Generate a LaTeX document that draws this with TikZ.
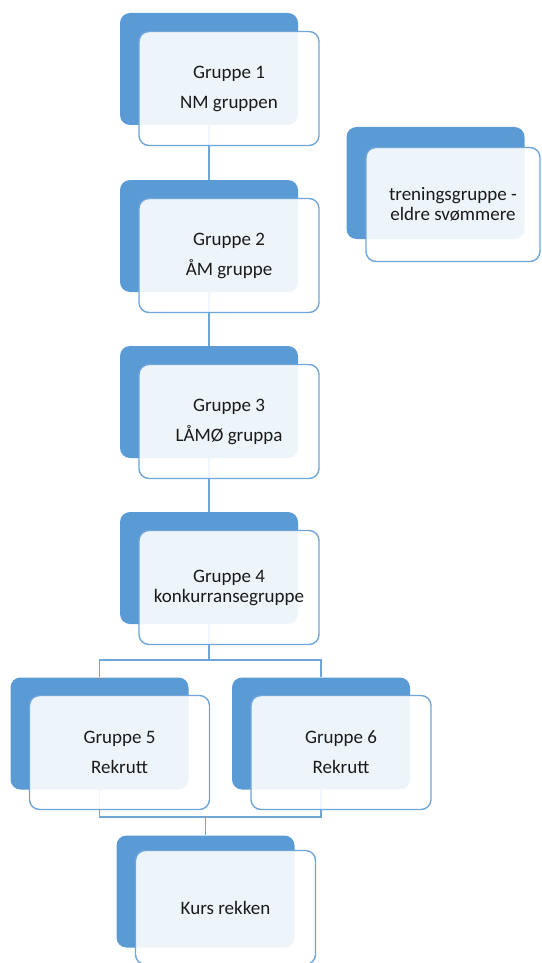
\documentclass[tikz,border=0pt]{standalone}
\usepackage{fontspec}
\setmainfont{Carlito}
\definecolor{sablue}{HTML}{5B9BD5}
\definecolor{saline}{HTML}{6FA6DA}
\definecolor{satext}{HTML}{1A1A1A}
\tikzset{
  backbox/.style={rectangle, rounded corners=10pt, fill=sablue, draw=none,
    minimum width=178pt, minimum height=112pt, inner sep=0pt},
  frontbox/.style={rectangle, rounded corners=10pt, fill=white, fill opacity=0.9,
    text opacity=1, draw=saline, line width=1.4pt,
    minimum width=180pt, minimum height=114pt, inner sep=0pt,
    align=center, text=satext, font={\fontsize{19}{20}\selectfont}},
  conn/.style={draw=saline, line width=1.4pt}
}
\begin{document}
\begin{tikzpicture}[x=1pt,y=-1pt]
\useasboundingbox (0,0) rectangle (541,963);
% back rectangles
\node[backbox] (b1) at (209,69) {};
\node[backbox] (b2) at (209,236) {};
\node[backbox] (b3) at (209,402) {};
\node[backbox] (b4) at (209,568) {};
\node[backbox] (br) at (435.5,183) {};
\node[backbox] (b5) at (99.5,733.5) {};
\node[backbox] (b6) at (321,733.5) {};
\node[backbox] (b7) at (205.5,891.5) {};
% connectors
\coordinate (j1) at (209,660);
\coordinate (j2) at (205.5,817);
\draw[conn] (b1.south) -- (b2.north);
\draw[conn] (b2.south) -- (b3.north);
\draw[conn] (b3.south) -- (b4.north);
\draw[conn] (b4.south) -- (j1) -| (b5.north);
\draw[conn] (j1) -| (b6.north);
\draw[conn] (b5.south) |- (j2) -- (b7.north);
\draw[conn] (b6.south) |- (j2);
% front boxes
\node[frontbox] (f1) at (229,88.5) {Gruppe 1\\[10pt]NM gruppen};
\node[frontbox] (f2) at (229,255.5) {Gruppe 2\\[10pt]ÅM gruppe};
\node[frontbox] (f3) at (229,421.5) {Gruppe 3\\[10pt]LÅMØ gruppa};
\node[frontbox] (f4) at (229,587.5) {Gruppe 4\\konkurransegruppe};
\node[frontbox, minimum width=174pt] (fr) at (453,204.5) {treningsgruppe -\\eldre svømmere};
\node[frontbox] (f5) at (119.5,752.5) {Gruppe 5\\[10pt]Rekrutt};
\node[frontbox] (f6) at (341,752.5) {Gruppe 6\\[10pt]Rekrutt};
\node[frontbox] (f7) at (225.5,907.5) {Kurs rekken};
\end{tikzpicture}
\end{document}
